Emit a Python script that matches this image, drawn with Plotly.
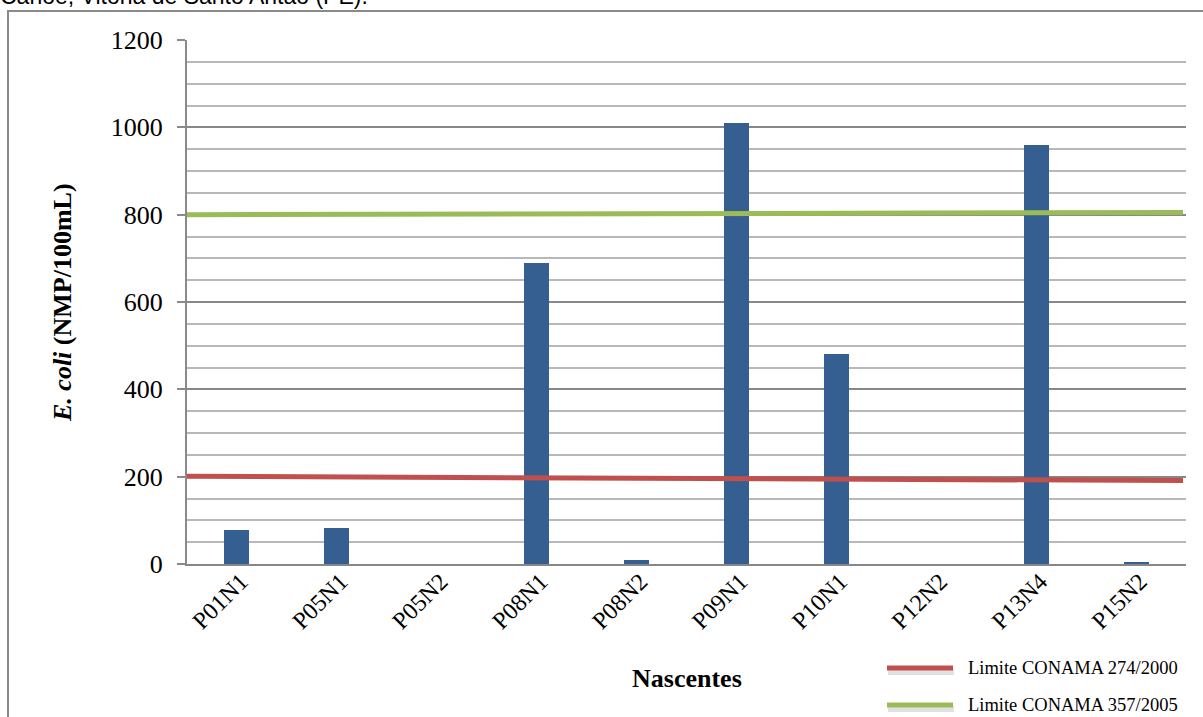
import plotly.graph_objects as go

# ---- data ----
categories = ["P01N1", "P05N1", "P05N2", "P08N1", "P08N2",
              "P09N1", "P10N1", "P12N2", "P13N4", "P15N2"]
ecoli_values = [78, 82, 0, 689, 9, 1010, 481, 0, 960, 5]
limit_x = [-0.5, 9.47]
limit_274_2000 = [201, 191]
limit_357_2005 = [800, 805]
legend_labels = ["Limite CONAMA 274/2000", "Limite CONAMA 357/2005"]
red = "#C0504D"
green = "#9BBB59"

serif = "Liberation Serif, Times New Roman, serif"
x_idx = list(range(len(categories)))

fig = go.Figure()
fig.add_trace(go.Bar(
    x=x_idx, y=ecoli_values, width=0.25,
    marker=dict(color="#365F91", line=dict(color="#5E82B2", width=0)),
    showlegend=False,
))
fig.add_trace(go.Scatter(
    x=limit_x, y=limit_274_2000, mode="lines",
    line=dict(color=red, width=5), name=legend_labels[0], showlegend=False,
))
fig.add_trace(go.Scatter(
    x=limit_x, y=limit_357_2005, mode="lines",
    line=dict(color=green, width=5), name=legend_labels[1], showlegend=False,
))

# ---- layout ----
L, R, T, B = 187, 17, 40, 153
W, H = 1203, 717
pw, ph = W - L - R, H - T - B

def px(xp):
    return (xp - L) / pw

def py(yp):
    return (H - B - yp) / ph

fig.update_layout(
    width=W, height=H,
    margin=dict(l=L, r=R, t=T, b=B),
    paper_bgcolor="white", plot_bgcolor="white",
    bargap=0,
    xaxis=dict(
        range=[-0.5, 9.5], tickvals=x_idx, ticktext=categories,
        tickangle=-45, tickfont=dict(family=serif, size=24, color="black"),
        showgrid=False, zeroline=False,
        showline=True, linecolor="#878787", linewidth=2,
        ticks="", ticklabelstandoff=-8, ticklabelshift=4,
    ),
    yaxis=dict(
        range=[0, 1200], tickvals=[0, 200, 400, 600, 800, 1000, 1200],
        tickfont=dict(family=serif, size=26, color="black"),
        showgrid=True, gridcolor="#878787", gridwidth=1.5,
        minor=dict(dtick=50, showgrid=True, gridcolor="#B8B8B8", gridwidth=1.5),
        zeroline=False,
        showline=True, linecolor="#8A8A8A", linewidth=2,
        ticks="outside", ticklen=8, tickwidth=1.5, tickcolor="#8A8A8A",
        ticklabelstandoff=9,
    ),
)

shapes = []
# outer border
shapes.append(dict(type="rect", xref="paper", yref="paper",
                   x0=px(8), x1=px(1215), y0=py(740), y1=py(11),
                   line=dict(color="#8A8A8A", width=2), layer="above"))
# manual legend glyphs (with soft shadow)
for i, col in enumerate([red, green]):
    yrow = 668 + i * 37
    shapes.append(dict(type="line", xref="paper", yref="paper",
                       x0=px(888), x1=px(954), y0=py(yrow + 4), y1=py(yrow + 4),
                       line=dict(color="rgba(0,0,0,0.12)", width=6)))
    shapes.append(dict(type="line", xref="paper", yref="paper",
                       x0=px(887), x1=px(953), y0=py(yrow), y1=py(yrow),
                       line=dict(color=col, width=5)))
fig.update_layout(shapes=shapes)

annotations = [
    dict(text="Canoé, Vitória de Santo Antão (PE).", xref="paper", yref="paper",
         x=px(-2), y=py(11), xanchor="left", yanchor="bottom", showarrow=False,
         font=dict(family="Liberation Sans, Arial, sans-serif", size=23, color="black")),
    dict(text="<b><i>E. coli</i> (NMP/100mL)</b>", xref="paper", yref="paper",
         x=px(62), y=py(302), xanchor="center", yanchor="middle", textangle=-90,
         showarrow=False, font=dict(family=serif, size=26, color="black")),
    dict(text="<b>Nascentes</b>", xref="paper", yref="paper",
         x=px(687), y=py(678), xanchor="center", yanchor="middle",
         showarrow=False, font=dict(family=serif, size=26, color="black")),
]
for i, lab in enumerate(legend_labels):
    yrow = 668 + i * 37
    annotations.append(dict(text=lab, xref="paper", yref="paper",
                            x=px(966), y=py(yrow), xanchor="left", yanchor="middle",
                            showarrow=False,
                            font=dict(family=serif, size=18.5, color="black")))
fig.update_layout(annotations=annotations)

fig.write_html("out.html",
               config={"displayModeBar": False},
               post_script="document.body.style.margin='0';document.body.style.overflow='hidden';")
